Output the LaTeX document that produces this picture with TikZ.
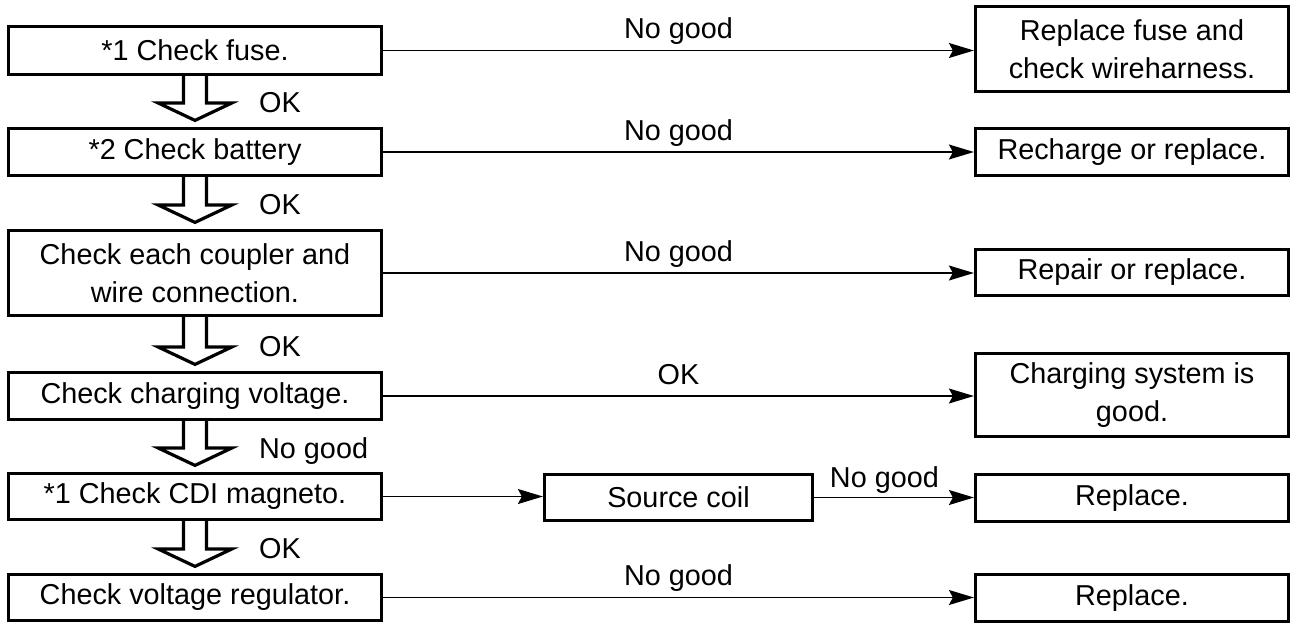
\documentclass[tikz,border=0pt]{standalone}
\usepackage{fontspec}
\setmainfont{Liberation Sans}
\usetikzlibrary{arrows.meta,calc}
\begin{document}
\begin{tikzpicture}[x=1pt,y=-1pt,
  box/.style={draw, line width=3.2pt, minimum width=373pt, align=center, inner sep=0pt, font=\fontsize{28.8}{38}\selectfont},
  rbox/.style={box, minimum width=313pt},
  conn/.style={line width=1.4pt, -{Stealth[length=25pt,width=15pt,inset=4pt]}},
  lbl/.style={font=\fontsize{28.8}{38}\selectfont, inner sep=0pt, text depth=6pt},
  hollow/.style={line width=3.2pt, line join=miter}
]
\useasboundingbox (0,0) rectangle (1291,624);

\node[box, minimum height=48pt] (b1) at (195,50.5) {*1 Check fuse.};
\node[box, minimum height=47pt] (b2) at (195,152) {*2 Check battery};
\node[box, minimum height=85pt] (b3) at (195,273) {Check each coupler and\\wire connection.};
\node[box, minimum height=47pt] (b4) at (195,396) {Check charging voltage.};
\node[box, minimum height=46pt] (b5) at (195,496.5) {*1 Check CDI magneto.};
\node[box, minimum height=46pt] (b6) at (195,597.5) {Check voltage regulator.};

\node[rbox, minimum height=85pt] (r1) at (1132,49) {Replace fuse and\\check wireharness.};
\node[rbox, minimum height=47pt] (r2) at (1132,152) {Recharge or replace.};
\node[rbox, minimum height=46pt] (r3) at (1132,272.5) {Repair or replace.};
\node[rbox, minimum height=83pt] (r4) at (1132,395) {Charging system is\\good.};
\node[rbox, minimum height=47pt] (r5) at (1132,498) {Replace.};
\node[rbox, minimum height=47pt] (r6) at (1132,598) {Replace.};
\node[box, minimum width=268pt, minimum height=46pt] (sc) at (678.5,497.5) {Source coil};

\draw[conn] (b1.east) -- (b1.east -| r1.west) node[midway, above=5pt, lbl] {No good};
\draw[conn] (b2.east) -- (b2.east -| r2.west) node[midway, above=5pt, lbl] {No good};
\draw[conn] (b3.east) -- (b3.east -| r3.west) node[midway, above=5pt, lbl] {No good};
\draw[conn] (b4.east) -- (b4.east -| r4.west) node[midway, above=5pt, lbl] {OK};
\draw[conn] (b5.east) -- (b5.east -| sc.west);
\draw[conn] (sc.east) -- (sc.east -| r5.west) node[pos=0.44, above=3pt, lbl] {No good};
\draw[conn] (b6.east) -- (b6.east -| r6.west) node[midway, above=5pt, lbl] {No good};

\foreach \a/\b/\t in {b1/b2/OK, b2/b3/OK, b3/b4/OK, b4/b5/No good, b5/b6/OK} {
  \draw[hollow] ($(\a.south)+(-11.5,0)$) -- ($(\b.north)+(-11.5,-24)$) -- ($(\b.north)+(-37,-24)$) -- ($(\b.north)+(0,-6.5)$) -- ($(\b.north)+(37,-24)$) -- ($(\b.north)+(11.5,-24)$) -- ($(\a.south)+(11.5,0)$);
  \node[lbl, anchor=west, text depth=0pt] at ($(\b.north)+(64,-24)$) {\t};
}
\end{tikzpicture}
\end{document}
